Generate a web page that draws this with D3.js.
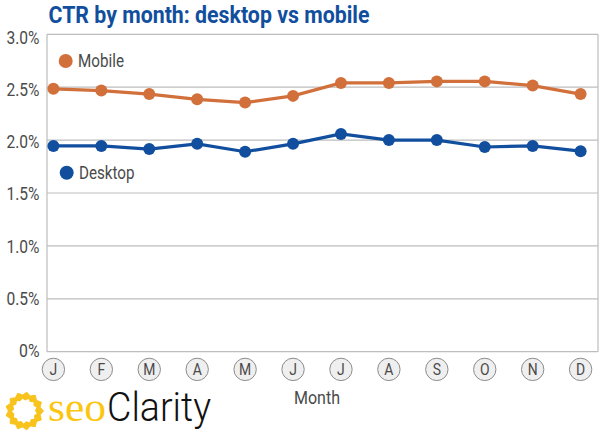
<!DOCTYPE html>
<html><head><meta charset="utf-8">
<script src="https://cdn.jsdelivr.net/npm/d3@7"></script>
<style>html,body{margin:0;padding:0;background:#fff}svg{display:block}text{font-family:Roboto,sans-serif}</style>
</head><body><div id="c"></div>
<script>
const months = ["J","F","M","A","M","J","J","A","S","O","N","D"];
const mobile = [2.485,2.468,2.435,2.385,2.355,2.418,2.54,2.54,2.555,2.555,2.515,2.435];
const desktop = [1.945,1.945,1.915,1.965,1.89,1.965,2.058,2.0,2.0,1.935,1.945,1.895];
const yTicks = [0,0.5,1,1.5,2,2.5,3];
const yTickLabels = ["0%","0.5%","1.0%","1.5%","2.0%","2.5%","3.0%"];

const W=600,H=434, L=47,R=598,T=34.3,B=351.7;
const svg=d3.select("#c").append("svg").attr("width",W).attr("height",H);
const x=d3.scalePoint().domain(d3.range(12)).range([53.4,580.6]);
const y=d3.scaleLinear().domain([0,3]).range([B,T]);
// the axis labels sit on a slightly tighter spacing than the gridlines
const yLabel=d3.scaleLinear().domain([0,3]).range([351,37.5]);

function cond(sel,len){return sel.attr("textLength",len).attr("lengthAdjust","spacingAndGlyphs");}

cond(svg.append("text").attr("x",48.5).attr("y",23).attr("font-size",23.5).attr("font-weight",700)
  .attr("fill","#114f9e").text("CTR by month: desktop vs mobile"),321);

svg.append("g").selectAll("line").data(yTicks).join("line")
  .attr("x1",L).attr("x2",R).attr("y1",d=>y(d)).attr("y2",d=>y(d))
  .attr("stroke","#bdbdbd").attr("stroke-width",1.2);
svg.append("path").attr("d",`M${L},${T}V${B}M${R},${T}V${B}`).attr("fill","none").attr("stroke","#bdbdbd").attr("stroke-width",1.2);

svg.append("g").selectAll("text").data(yTicks).join("text")
  .attr("x",39.5).attr("y",d=>yLabel(d)+6).attr("text-anchor","end")
  .attr("font-size",17.5).attr("fill","#4a4a4a").text((d,i)=>yTickLabels[i])
  .attr("textLength",(d,i)=>yTickLabels[i].length===2?20.5:33).attr("lengthAdjust","spacingAndGlyphs");

const line=d3.line().x((d,i)=>x(i)).y(d=>y(d));
[[mobile,"#d2703c"],[desktop,"#114f9e"]].forEach(([s,c])=>{
  svg.append("path").attr("d",line(s)).attr("fill","none").attr("stroke",c).attr("stroke-width",3.2);
  svg.append("g").selectAll("circle").data(s).join("circle")
    .attr("cx",(d,i)=>x(i)).attr("cy",d=>y(d)).attr("r",6).attr("fill",c);
});

const legend=[["Mobile","#d2703c",65.7,61,46],["Desktop","#114f9e",66.7,172.7,55.5]];
legend.forEach(([t,c,cx,cy,len])=>{
  svg.append("circle").attr("cx",cx).attr("cy",cy).attr("r",7).attr("fill",c);
  cond(svg.append("text").attr("x",cx+12.3).attr("y",cy+6).attr("font-size",17.5).attr("fill","#4a4a4a").text(t),len);
});

const g=svg.append("g").selectAll("g").data(months).join("g")
  .attr("transform",(d,i)=>`translate(${x(i)},369.4)`);
g.append("circle").attr("r",11.2).attr("fill","#efefef").attr("stroke","#8c8c8c").attr("stroke-width",1);
g.append("text").attr("y",6).attr("text-anchor","middle").attr("font-size",17).attr("fill","#4a4a4a")
  .attr("transform","scale(0.82,1)").text(d=>d);

cond(svg.append("text").attr("x",294).attr("y",403.5).attr("font-size",17.5).attr("fill","#4a4a4a").text("Month"),46);

// logo
const sun=svg.append("g").attr("transform","translate(24.5,411)");
const n=13;
[0,1].forEach(k=>{
  const pts=d3.range(n*2).map(i=>{
    const a=(i+k*0.8)/(n*2)*2*Math.PI, r=k?(i%2?10.5:12.5):(i%2?16:19);
    return [r*Math.cos(a),r*Math.sin(a)];
  });
  sun.append("path").attr("d",d3.line().curve(d3.curveLinearClosed)(pts))
    .attr("fill",k?"#fff":"#f7c31c").attr("stroke",k?"none":"#f7c31c");
});
cond(svg.append("text").attr("x",48).attr("y",421).attr("font-size",40).attr("fill","#fcc50f")
  .style("font-family","'Liberation Serif',serif").text("seo"),58);
cond(svg.append("text").attr("x",107).attr("y",421).attr("font-size",40).attr("font-weight",300).attr("fill","#111")
  .text("Clarity"),104);
</script></body></html>
